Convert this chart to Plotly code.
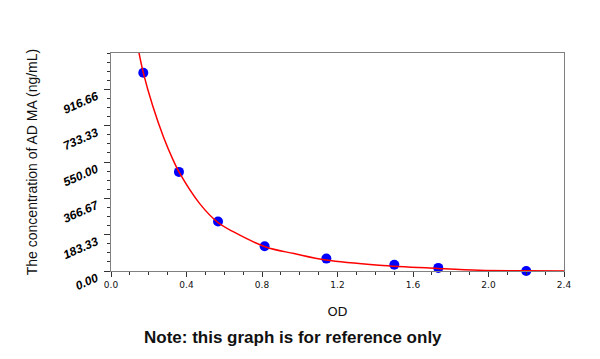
import plotly.graph_objects as go

# Standard points (OD vs concentration)
od = [0.171, 0.360, 0.567, 0.814, 1.141, 1.501, 1.734, 2.200]
conc = [1000, 500, 250, 125, 62.5, 31.25, 15.63, 0]

# Fitted curve
curve_od = [0.145, 0.171, 0.22, 0.28, 0.33, 0.36, 0.47, 0.565, 0.65, 0.82,
            0.97, 1.14, 1.42, 1.73, 1.95, 2.2, 2.4]
curve_conc = [1117, 1001, 836, 671, 558, 500, 340, 246, 197, 121,
              88, 55, 29, 13, 4, 1, 0]

y_tickvals = [0, 183.333, 366.667, 550, 733.333, 916.667]
y_ticktext = ["0.00", "183.33", "366.67", "550.00", "733.33", "916.66"]
x_tickvals = [0.0, 0.4, 0.8, 1.2, 1.6, 2.0, 2.4]
x_ticktext = ["0.0", "0.4", "0.8", "1.2", "1.6", "2.0", "2.4"]

fig = go.Figure()
fig.add_trace(go.Scatter(x=od, y=conc, mode="markers",
                         marker=dict(color="#0000ff", size=10, line=dict(width=0)),
                         showlegend=False, cliponaxis=False))
fig.add_trace(go.Scatter(x=curve_od, y=curve_conc, mode="lines",
                         line=dict(color="#ff0000", width=1.5, shape="spline"),
                         showlegend=False))

fig.update_layout(
    width=592, height=351,
    margin=dict(l=103, r=36, t=45, b=88),
    paper_bgcolor="white", plot_bgcolor="white",
    xaxis=dict(range=[0, 2.4], tickvals=x_tickvals, ticktext=x_ticktext,
               showgrid=False, zeroline=False, showline=True, mirror=True,
               linecolor="#808080", linewidth=1,
               ticks="outside", ticklen=5, tickcolor="#333",
               tickfont=dict(family="DejaVu Sans", size=9, color="#111"),
               minor=dict(dtick=0.1, tick0=0, ticks="outside", ticklen=3, tickcolor="#333"),
               title=dict(text="OD", font=dict(family="DejaVu Sans", size=13, color="#111"),
                          standoff=18)),
    yaxis=dict(range=[0, 1100], tickvals=y_tickvals, ticktext=y_ticktext,
               showgrid=False, zeroline=False, showline=True, mirror=True,
               linecolor="#808080", linewidth=1,
               ticks="outside", ticklen=6, tickcolor="#333", tickangle=-24,
               ticklabelstandoff=5, ticklabelshift=6,
               tickfont=dict(family="Liberation Sans", size=12, color="#000",
                             weight="bold", style="italic"),
               minor=dict(tickvals=[i * 1100 / 24 for i in range(25)],
                          ticks="outside", ticklen=3, tickcolor="#333"),
               title=dict(text="The concentration of AD MA (ng/mL)",
                          font=dict(family="Liberation Sans", size=14, color="#111"),
                          standoff=20)),
    annotations=[dict(text="<b>Note: this graph is for reference only</b>",
                      xref="paper", yref="paper", x=0.402, y=-0.307,
                      xanchor="center", yanchor="middle", showarrow=False,
                      font=dict(family="Liberation Sans", size=17, color="#111"))],
)

fig.write_html("out.html")
